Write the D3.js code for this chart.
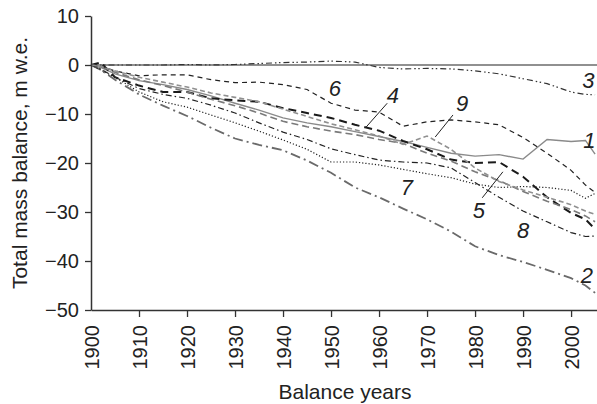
<!DOCTYPE html>
<html>
<head>
<meta charset="utf-8">
<script src="https://cdn.jsdelivr.net/npm/d3@7"></script>
<style>
  body { margin: 0; background: #fff; }
  text { font-family: "Liberation Sans", Arial, sans-serif; fill: #222; }
</style>
</head>
<body>
<div id="chart"></div>
<script>
const svgWidth = 597;
const svgHeight = 404;

// balance years sampled from the figure
const years = [1900, 1902, 1905, 1910, 1915, 1920, 1925, 1930, 1935, 1940, 1945, 1950,
  1955, 1960, 1965, 1970, 1975, 1980, 1985, 1990, 1995, 2000, 2003, 2005];

// cumulative mass balance, m w.e., one array per glacier
const glacier1 = [0, -0.5, -1.8, -3.2, -4, -5, -6.3, -7.8, -9.2, -10.8, -11.8, -12.6,
  -13.6, -14.6, -15.6, -16.8, -18, -18.6, -18.3, -19.2, -15.2, -15.6, -15.4, -18.2];
const glacier2 = [0, -1, -3, -6, -8.3, -10.4, -12.8, -15, -16.3, -17.4, -19.5, -22,
  -25, -27, -29.3, -31.5, -34, -37, -38.8, -40.2, -41.8, -43.5, -45, -46.5];
const glacier3 = [0, 0, 0, 0, 0, 0.1, 0, 0.1, 0.3, 0.5, 0.6, 0.8,
  0.6, -0.5, -0.8, -0.7, -0.8, -1.2, -1.8, -2.8, -3.8, -5.5, -6, -6.1];
const glacier4 = [0, 0.5, -2.5, -4.2, -5.5, -5.5, -6.8, -7.2, -7.5, -8.8, -9.8, -10.8,
  -12.2, -13.4, -15.5, -17.2, -19.3, -20, -19.8, -22.8, -27, -30.2, -31.5, -33.5];
const glacier5 = [0, -0.3, -1.5, -3, -4.2, -5.5, -7, -8.3, -9.8, -11.5, -12.6, -13.5,
  -14.2, -15.2, -16, -18, -19.6, -21.8, -23.6, -25.8, -27.8, -29.5, -30.8, -32];
const glacier6 = [0, -0.3, -1.2, -2.2, -2, -2, -3, -3.6, -3.5, -4, -5, -7.8,
  -9.2, -9.6, -12.5, -11.6, -11.2, -11.6, -12.2, -14.8, -18, -21.5, -24.5, -26];
const glacier7 = [0, -1, -2.5, -5.5, -7.5, -8.6, -10.2, -11.8, -13.5, -15.3, -17.2, -19.8,
  -19.8, -20.4, -21.3, -22.2, -23, -24.3, -25, -24.8, -25, -25.6, -27.2, -26.2];
const glacier8 = [0, -0.8, -2.5, -4.8, -6, -6.8, -8.2, -9.8, -11.8, -13.7, -15.2, -17.1,
  -18.3, -19.4, -19.8, -20, -21, -24, -27, -29.8, -32, -34.2, -35, -34.9];
const glacier9 = [0, -0.3, -1.2, -2.5, -3.5, -4.5, -5.7, -6.6, -7.5, -9, -10.5, -12,
  -13.2, -14.5, -16.2, -14.5, -17.2, -21, -23.8, -25.5, -27, -28.5, -29.8, -30.5];

const yTicks = [10, 0, -10, -20, -30, -40, -50];
const xTicks = [1900, 1910, 1920, 1930, 1940, 1950, 1960, 1970, 1980, 1990, 2000];

const series = [
  { id: '1', values: glacier1, color: '#8a8a8a', width: 1.4, dash: null },
  { id: '2', values: glacier2, color: '#6a6a6a', width: 1.8, dash: '10,4,2,4' },
  { id: '3', values: glacier3, color: '#333', width: 1.2, dash: '6,3,1.5,2.5,1.5,3' },
  { id: '4', values: glacier4, color: '#1a1a1a', width: 2, dash: '8,5' },
  { id: '5', values: glacier5, color: '#7a7a7a', width: 1.6, dash: '7,4' },
  { id: '6', values: glacier6, color: '#222', width: 1.2, dash: '5,4' },
  { id: '7', values: glacier7, color: '#222', width: 1.2, dash: '1.2,2' },
  { id: '8', values: glacier8, color: '#222', width: 1.2, dash: '6,3,1.5,3' },
  { id: '9', values: glacier9, color: '#909090', width: 1.6, dash: '5,3' },
];

const svg = d3.select('#chart').append('svg')
  .attr('width', svgWidth).attr('height', svgHeight);

const x = d3.scaleLinear().domain([1900, 2005.4]).range([91, 597]);
const y = d3.scaleLinear().domain([-50, 10]).range([310, 16]);

// zero line
svg.append('line')
  .attr('x1', x(1900)).attr('x2', x(2005.4))
  .attr('y1', y(0)).attr('y2', y(0))
  .attr('stroke', '#222').attr('stroke-width', 1.2);

const line = d3.line()
  .x((d, i) => x(years[i]))
  .y(d => y(d));

svg.selectAll('path.series')
  .data(series)
  .enter()
  .append('path')
  .attr('class', 'series')
  .attr('d', d => line(d.values))
  .attr('fill', 'none')
  .attr('stroke', d => d.color)
  .attr('stroke-width', d => d.width)
  .attr('stroke-dasharray', d => d.dash);

// axes
const yAxis = svg.append('g')
  .attr('transform', `translate(${x(1900)},0)`)
  .call(d3.axisLeft(y).tickValues(yTicks).tickSize(6).tickSizeOuter(0)
    .tickFormat(d => d < 0 ? '\u2212' + Math.abs(d) : d));
yAxis.select('.domain').attr('stroke', '#333').attr('stroke-width', 1.5);
yAxis.selectAll('.tick line').attr('stroke', '#333').attr('stroke-width', 1.3);
yAxis.selectAll('.tick text')
  .attr('x', -12)
  .style('font-size', '20px')
  .style('font-family', '"Liberation Sans", Arial, sans-serif')
  .attr('fill', '#222');

const xAxis = svg.append('g')
  .attr('transform', `translate(0,${y(-50)})`)
  .call(d3.axisBottom(x).tickValues(xTicks).tickSize(7).tickSizeOuter(0).tickFormat(d3.format('d')));
xAxis.select('.domain').attr('stroke', '#333').attr('stroke-width', 1.5);
xAxis.selectAll('.tick line').attr('stroke', '#333').attr('stroke-width', 1.3)
  .filter(d => d === 1900).remove();
xAxis.selectAll('.tick text')
  .attr('transform', 'rotate(-90)')
  .attr('x', -15)
  .attr('y', 0)
  .attr('dy', '0.35em')
  .attr('text-anchor', 'end')
  .style('font-size', '20px')
  .style('font-family', '"Liberation Sans", Arial, sans-serif')
  .attr('fill', '#222');

// axis titles
svg.append('text')
  .attr('x', 345)
  .attr('y', 399)
  .attr('text-anchor', 'middle')
  .style('font-size', '21px')
  .text('Balance years');

svg.append('text')
  .attr('transform', 'rotate(-90)')
  .attr('x', -163)
  .attr('y', 27)
  .attr('text-anchor', 'middle')
  .style('font-size', '21px')
  .text('Total mass balance, m w.e.');

// glacier number labels and leader lines
const labels = [
  { t: '6', yr: 1950.8, v: -4.7 },
  { t: '4', yr: 1962.9, v: -6.1 },
  { t: '9', yr: 1977.3, v: -7.8 },
  { t: '3', yr: 2003.6, v: -3.1 },
  { t: '1', yr: 2003.8, v: -15.3 },
  { t: '7', yr: 1965.8, v: -24.9 },
  { t: '5', yr: 1980.8, v: -29.6 },
  { t: '8', yr: 1990, v: -33.7 },
  { t: '2', yr: 2003.3, v: -42.9 },
];
svg.selectAll('text.num')
  .data(labels)
  .enter()
  .append('text')
  .attr('class', 'num')
  .attr('x', d => x(d.yr))
  .attr('y', d => y(d.v))
  .attr('dy', '0.36em')
  .attr('text-anchor', 'middle')
  .style('font-size', '22px')
  .style('font-style', 'italic')
  .text(d => d.t);

const leaders = [
  [1961.7, -7.8, 1957.1, -12.9],
  [1975.4, -10.2, 1971.7, -14.7],
  [1985.8, -21.8, 1981.5, -27.1],
];
svg.selectAll('line.leader')
  .data(leaders)
  .enter()
  .append('line')
  .attr('class', 'leader')
  .attr('x1', d => x(d[0])).attr('y1', d => y(d[1]))
  .attr('x2', d => x(d[2])).attr('y2', d => y(d[3]))
  .attr('stroke', '#222').attr('stroke-width', 1);
</script>
</body>
</html>
